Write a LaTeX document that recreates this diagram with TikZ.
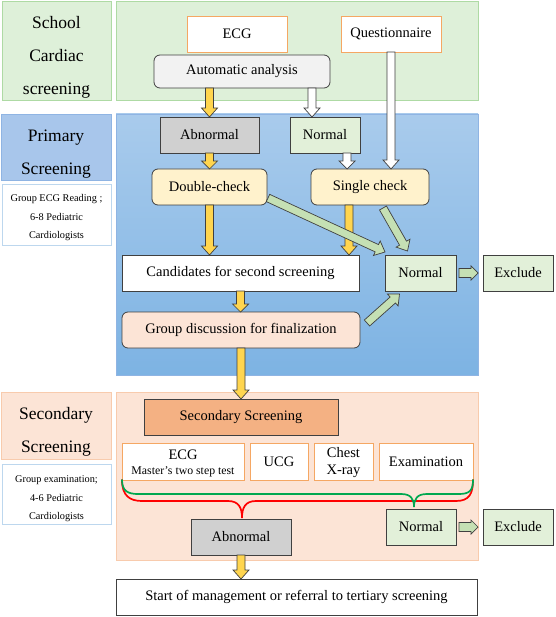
\documentclass[tikz,border=0pt]{standalone}
\usepackage{fontspec}
\setmainfont{Liberation Serif}
\usetikzlibrary{calc}
\definecolor{bd}{HTML}{404040}
\definecolor{gfill}{HTML}{DEF0D9}
\definecolor{gline}{HTML}{AEDAA4}
\definecolor{nfill}{HTML}{E2F0D9}
\definecolor{garr}{HTML}{C5E0B4}
\definecolor{yarrc}{HTML}{FFD54F}
\definecolor{bfill}{HTML}{A8C6EB}
\definecolor{bline}{HTML}{8FB4E3}
\definecolor{btop}{HTML}{A9CBEC}
\definecolor{bbot}{HTML}{7DB3E3}
\definecolor{nline}{HTML}{BDD7EE}
\definecolor{ofill}{HTML}{FCE4D6}
\definecolor{oline}{HTML}{F8CBAD}
\definecolor{ohdr}{HTML}{F4B183}
\definecolor{obord}{HTML}{F5A763}
\definecolor{dfill}{HTML}{FFF2CC}
\definecolor{gray1}{HTML}{D0D0D0}
\definecolor{gray2}{HTML}{F2F2F2}
\definecolor{brgreen}{HTML}{00A84F}
\definecolor{brred}{HTML}{FF0000}
\newcommand{\barr}[6]{%
  \coordinate (bA) at (#2);
  \coordinate (bB) at (#3);
  \coordinate (bH) at ($(bB)!#6pt!(bA)$);
  \draw[#1] ($(bA)!#4pt!90:(bB)$) -- ($(bH)!#4pt!90:(bB)$) -- ($(bH)!#5pt!90:(bB)$) -- (bB)
    -- ($(bH)!#5pt!-90:(bB)$) -- ($(bH)!#4pt!-90:(bB)$) -- ($(bA)!#4pt!-90:(bB)$) -- cycle;}
\newcommand{\topstrut}[1]{\rule{0pt}{#1}}
\begin{document}
\begin{tikzpicture}[x=1pt,y=-1pt,
  panel/.style={draw, line width=0.8pt, inner sep=0pt, outer sep=0pt},
  lab/.style={panel, align=center, font=\fontsize{17.5}{33}\selectfont},
  note/.style={panel, draw=nline, fill=white, align=center, font=\fontsize{10.3}{18.5}\selectfont},
  box/.style={draw=bd, line width=0.8pt, inner sep=0pt, outer sep=0pt, align=center, font=\fontsize{14.5}{17}\selectfont},
  rbox/.style={box, rounded corners=6pt},
  obox/.style={box, draw=obord, fill=white},
  yarr/.style={draw=bd, line width=0.7pt, fill=yarrc, line join=miter},
  warr/.style={draw=bd, line width=0.7pt, fill=white, line join=miter},
  garrs/.style={draw=bd, line width=0.7pt, fill=garr, line join=miter},
  brace/.style={line width=1.7pt, line cap=round}
]
\useasboundingbox (0,0) rectangle (555,617);

% panels
\node[lab, draw=gline, fill=gfill, minimum width=109pt, minimum height=99pt] (lab1) at (56.5,50.5) {\topstrut{26pt}School\\Cardiac\\screening};
\node[panel, draw=gline, fill=gfill, minimum width=362pt, minimum height=99pt] (pan1) at (297,50.5) {};
\node[lab, draw=bline, fill=bfill, minimum width=110pt, minimum height=66pt] (lab2) at (56,147) {\topstrut{26pt}Primary\\Screening};
\node[note, minimum width=109pt, minimum height=61pt] (note2) at (56.5,214.5) {\topstrut{14pt}Group ECG Reading ;\\6-8 Pediatric\\Cardiologists};
\node[panel, draw=bline, top color=btop, bottom color=bbot, minimum width=362pt, minimum height=261pt] (pan2) at (297,244.5) {};
\node[lab, draw=oline, fill=ofill, minimum width=110pt, minimum height=67pt] (lab3) at (56,425.5) {\topstrut{25pt}Secondary\\Screening};
\node[note, minimum width=109pt, minimum height=60pt] (note3) at (56.5,494) {\topstrut{17pt}Group examination;\\4-6 Pediatric\\Cardiologists};
\node[panel, draw=oline, fill=ofill, minimum width=362pt, minimum height=168pt] (pan3) at (297,476) {};

% boxes
\node[obox, minimum width=100pt, minimum height=36pt] (ecg1) at (237,34) {ECG};
\node[obox, minimum width=100pt, minimum height=36pt] (quest) at (391,34) {Questionnaire};
\node[rbox, fill=gray2, minimum width=176pt, minimum height=33pt] (auto) at (242,71.5) {Automatic analysis};
\node[box, fill=gray1, minimum width=99pt, minimum height=36pt] (abn1) at (209.5,135) {Abnormal};
\node[box, fill=nfill, minimum width=70pt, minimum height=36pt] (norm1) at (325,135) {Normal};
\node[rbox, fill=dfill, minimum width=115pt, minimum height=36pt] (dbl) at (209.5,187) {Double-check};
\node[rbox, fill=dfill, minimum width=118pt, minimum height=36pt] (single) at (370,187) {Single check};
\node[box, fill=white, minimum width=237pt, minimum height=36pt] (cand) at (240.5,273) {Candidates for second screening};
\node[box, fill=nfill, minimum width=71pt, minimum height=36pt] (normR) at (420.5,273) {Normal};
\node[box, fill=nfill, minimum width=70pt, minimum height=36pt] (excl1) at (518,273) {Exclude};
\node[rbox, fill=ofill, minimum width=238pt, minimum height=36pt] (group) at (241,330) {Group discussion for finalization};

\node[box, fill=ohdr, minimum width=194pt, minimum height=36pt] (sechdr) at (241,417) {Secondary Screening};
\node[obox, minimum width=122pt, minimum height=37pt] (ecg2) at (183,461.5) {\topstrut{14pt}ECG\\[-2pt]{\fontsize{11.8}{13}\selectfont Master’s two step test}};
\node[obox, minimum width=58pt, minimum height=37pt] (ucg) at (279,461.5) {UCG};
\node[obox, minimum width=59pt, minimum height=37pt] (chest) at (343.5,461.5) {\topstrut{13pt}Chest\\X-ray};
\node[obox, minimum width=94pt, minimum height=37pt] (exam) at (426,461.5) {Examination};
\node[box, fill=gray1, minimum width=100pt, minimum height=36pt] (abn2) at (241,537) {Abnormal};
\node[box, fill=nfill, minimum width=70pt, minimum height=36pt] (norm2) at (421,527) {Normal};
\node[box, fill=nfill, minimum width=70pt, minimum height=36pt] (excl2) at (518,527) {Exclude};
\node[box, fill=white, minimum width=361pt, minimum height=36pt] (start) at (296.5,597) {Start of management or referral to tertiary screening};

% braces
\draw[brace, brred] (ecg2.south west) .. controls +(0,16) and +(-12,0) .. (142,501) -- (228,501)
  .. controls +(11,0) and +(0,-10) .. ($(abn2.north)+(1,-1)$)
  .. controls +(0,-10) and +(-11,0) .. (256,501) -- (456,501)
  .. controls +(13,0) and +(0,14) .. (exam.south east);
\draw[brace, brgreen] (ecg2.south west) .. controls +(0,11) and +(-10,0) .. (138,494) -- (401,494)
  .. controls +(10,0) and +(0,-8) .. ($(norm2.north)+(-7,-2)$)
  .. controls +(0,-8) and +(-10,0) .. (427,494) -- (459,494)
  .. controls +(11,0) and +(0,10) .. (exam.south east);

% arrows
\barr{yarr}{auto.south -| abn1.north}{abn1.north}{4}{8}{9}
\barr{warr}{$(auto.south -| norm1.north)+(-13,0)$}{$(norm1.north)+(-13,0)$}{4}{8}{9}
\barr{warr}{quest.south}{quest.south |- single.north}{4}{8}{9}
\barr{yarr}{abn1.south}{abn1.south |- dbl.north}{4}{8}{8}
\barr{warr}{$(norm1.south)+(22,0)$}{$(norm1.south |- single.north)+(22,0)$}{4}{8}{8}
\barr{yarr}{dbl.south}{dbl.south |- cand.north}{4}{8}{9}
\barr{yarr}{$(single.south)+(-21,0)$}{$(single.south |- cand.north)+(-21,0)$}{4}{8}{9}
\barr{garrs}{$(dbl.east)+(1,11)$}{$(normR.north west)+(0,-3)$}{4}{8}{9}
\barr{garrs}{$(single.south)+(13,3)$}{$(normR.north)+(-13,-4)$}{4}{8}{9}
\barr{garrs}{$(group.east)+(7,-7)$}{$(normR.south)+(-21,3)$}{4}{8}{9}
\barr{garrs}{$(normR.east)+(3,0)$}{$(excl1.west)+(-5,0)$}{4.5}{7}{7}
\barr{yarr}{cand.south}{cand.south |- group.north}{4}{8}{8}
\barr{yarr}{group.south}{group.south |- sechdr.north}{4}{8}{9}
\barr{garrs}{$(norm2.east)+(3,0)$}{$(excl2.west)+(-5,0)$}{4.5}{7}{7}
\barr{yarr}{abn2.south}{abn2.south |- start.north}{4}{8}{9}
\end{tikzpicture}
\end{document}
